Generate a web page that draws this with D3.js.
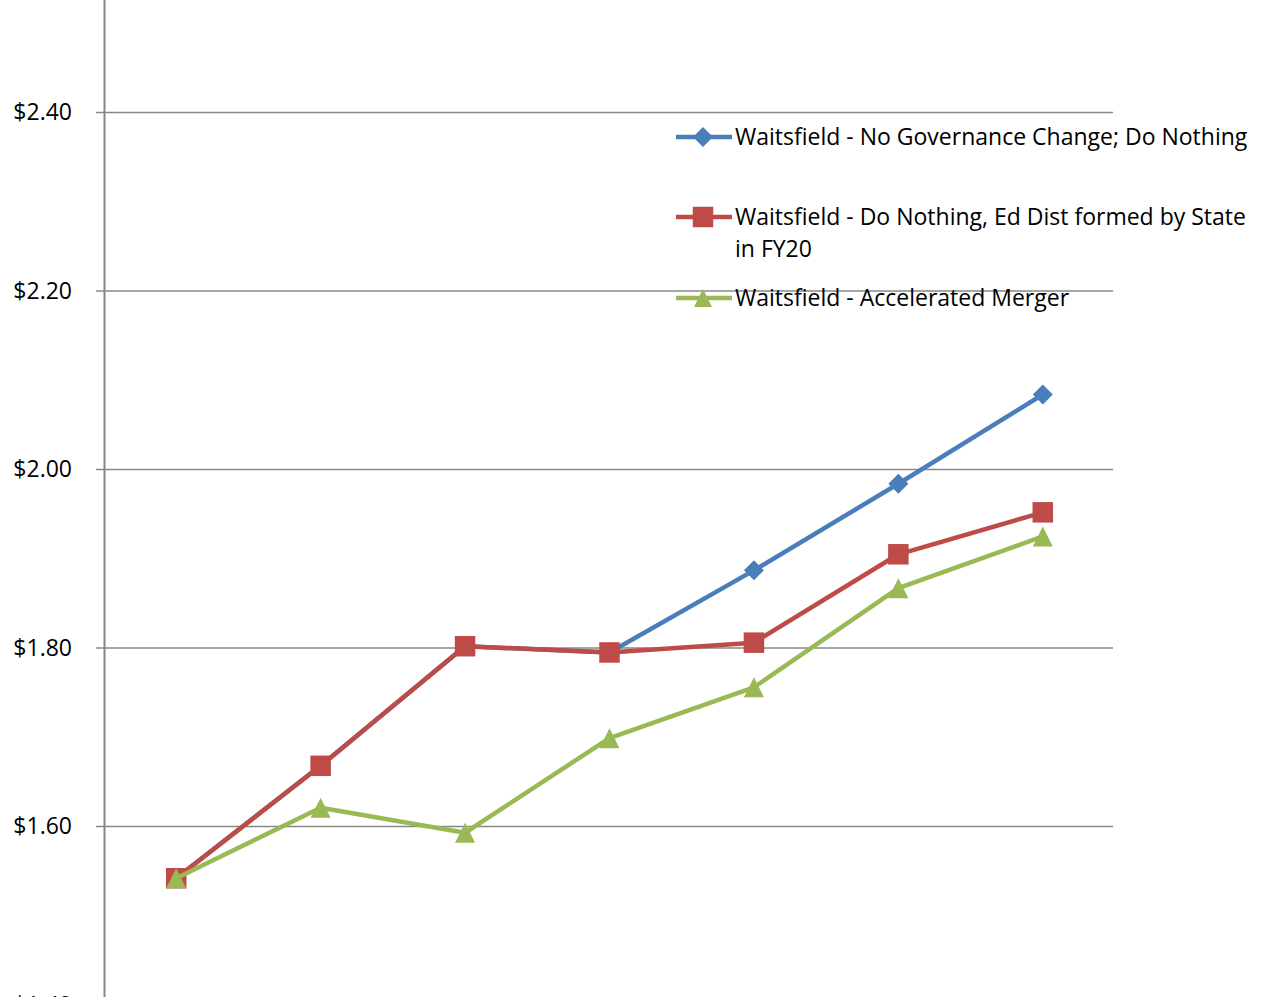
<!DOCTYPE html>
<html><head><meta charset="utf-8">
<script src="https://cdn.jsdelivr.net/npm/d3@7"></script>
<style>html,body{margin:0;padding:0;background:#fff;overflow:hidden}</style>
</head><body>
<svg id="c" width="1268" height="997"></svg>
<script>
const categories = ["FY16","FY17","FY18","FY19","FY20","FY21","FY22"];
const seriesNames = ["Waitsfield - No Governance Change; Do Nothing","Waitsfield - Do Nothing, Ed Dist formed by State in FY20","Waitsfield - Accelerated Merger"];
const noChange = [1.542, 1.668, 1.802, 1.795, 1.887, 1.984, 2.084];
const edDist = [1.542, 1.668, 1.802, 1.795, 1.806, 1.905, 1.952];
const accelerated = [1.542, 1.621, 1.593, 1.699, 1.756, 1.867, 1.925];
const yTicks = [1.40, 1.60, 1.80, 2.00, 2.20, 2.40];
const colors = ["#4A7EBB","#BE4B48","#98B954"];

const svg = d3.select("#c");
const font = "'Open Sans', sans-serif";
const x = d3.scaleBand().domain(categories).range([104, 1115]);
const y = d3.scaleLinear().domain([1.40, 2.60]).range([1005, -66]);

// gridlines
svg.append("g").selectAll("line").data(yTicks.filter(t=>t>1.4)).join("line")
  .attr("x1", 96).attr("x2", 1113).attr("y1", d=>y(d)).attr("y2", d=>y(d))
  .attr("stroke", "#888").attr("stroke-width", 1.6);

// y axis
const yAxis = d3.axisLeft(y).tickValues(yTicks).tickFormat(d=>"$"+d.toFixed(2)).tickSize(0).tickPadding(32);
const ga = svg.append("g").attr("transform","translate(104,0)").call(yAxis);
ga.select(".domain").attr("stroke","#868686").attr("stroke-width",2);
ga.selectAll("text").attr("font-family", font).attr("font-size", 23).attr("fill","#000");

// markers
const isoTriangle = {draw(ctx, size){ const w = Math.sqrt(size)/2; ctx.moveTo(0,-w); ctx.lineTo(w,w); ctx.lineTo(-w,w); ctx.closePath(); }};
function marker(k){
  if(k===0) return d3.symbol().type(d3.symbolSquare).size(200)();
  if(k===1) return d3.symbol().type(d3.symbolSquare).size(420)();
  return d3.symbol().type(isoTriangle).size(400)();
}
const rot = [45, 0, 0];

const data = [noChange, edDist, accelerated];
const cx = (i)=> x(categories[i]) + x.bandwidth()/2;
const line = d3.line().x((d,i)=>cx(i)).y(d=>y(d));
data.forEach((vals, k) => {
  const g = svg.append("g");
  g.append("path").datum(vals).attr("d", line).attr("fill","none")
    .attr("stroke", colors[k]).attr("stroke-width", 4.5).attr("stroke-linejoin","round");
  g.selectAll("path.m").data(vals).join("path").attr("class","m")
    .attr("d", marker(k))
    .attr("transform", (d,i)=>`translate(${cx(i)},${y(d)}) rotate(${rot[k]})`)
    .attr("fill", colors[k]);
});

// legend
const legendRows = [
  {lines:["Waitsfield - No Governance Change; Do Nothing"], y:137},
  {lines:["Waitsfield - Do Nothing, Ed Dist formed by State","in FY20"], y:217},
  {lines:["Waitsfield - Accelerated Merger"], y:298}
];
legendRows.forEach((r,k)=>{
  const g = svg.append("g");
  g.append("line").attr("x1",676).attr("x2",732).attr("y1",r.y).attr("y2",r.y)
    .attr("stroke",colors[k]).attr("stroke-width",4.5);
  g.append("path").attr("d", marker(k))
    .attr("transform",`translate(703,${r.y}) rotate(${rot[k]}) scale(${k===2?0.9:1})`).attr("fill",colors[k]);
  r.lines.forEach((t,j)=>{
    g.append("text").attr("x",735).attr("y",r.y + j*32).attr("dy","0.35em")
      .attr("font-family",font).attr("font-size",23).attr("fill","#000").text(t);
  });
});
</script>
</body></html>
